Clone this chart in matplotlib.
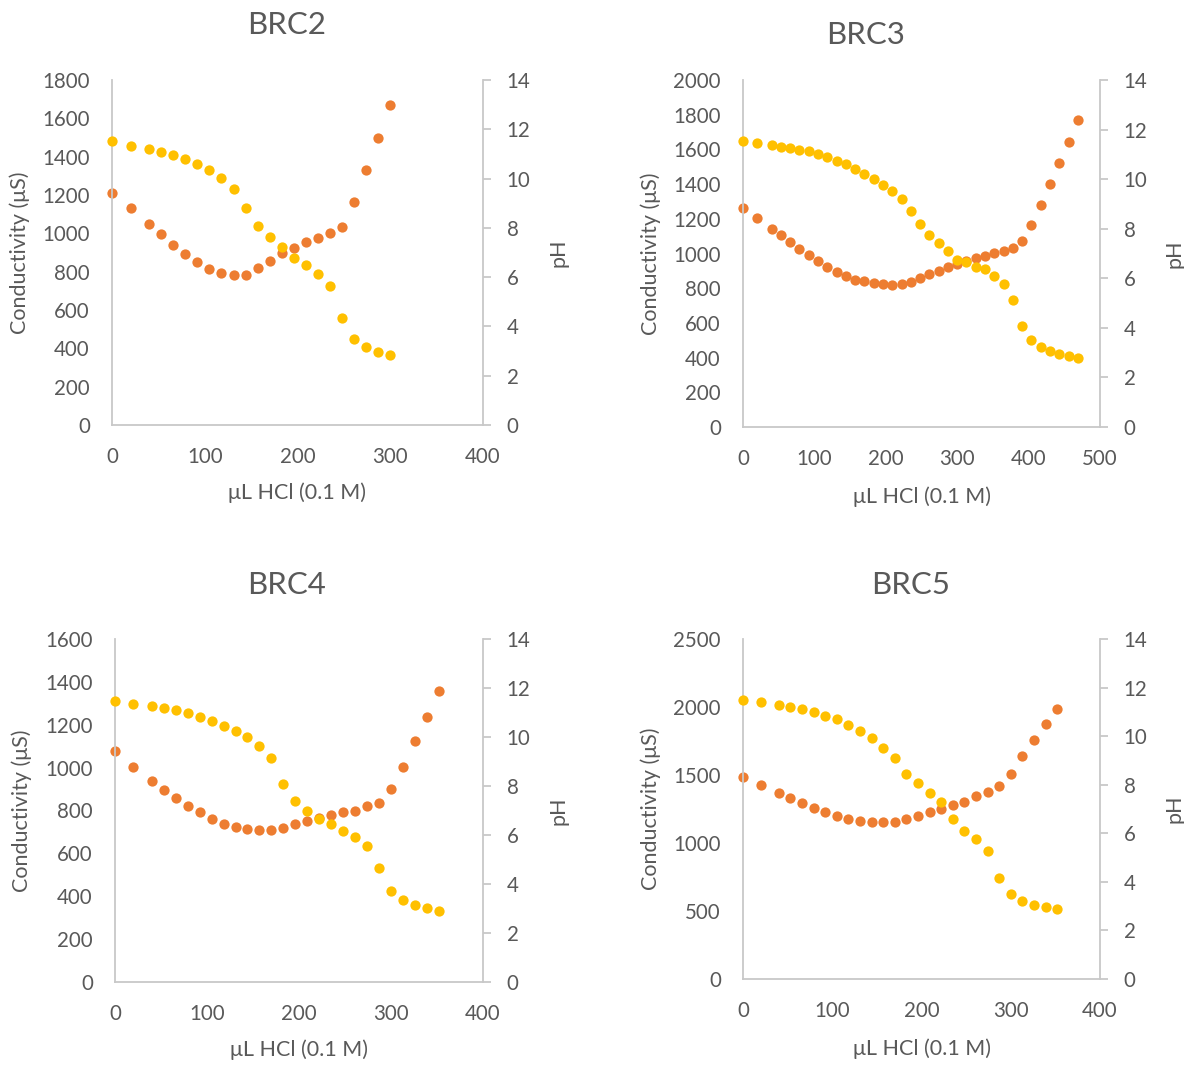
import matplotlib
matplotlib.use('Agg')
import matplotlib.pyplot as plt

plt.rcParams['font.family'] = ['Lato', 'DejaVu Sans']

W, H = 1184, 1065

# titration data
x_brc2 = [0, 20, 40, 53, 66, 79, 92, 105, 118, 131, 144, 157, 170, 183, 196, 209,
          222, 235, 248, 261, 274, 287, 300]
cond_brc2 = [1209, 1130, 1047, 995, 941, 892, 849, 814, 795, 781, 784, 817, 857, 896,
             925, 953, 976, 1002, 1035, 1163, 1329, 1499, 1668]
ph_brc2 = [11.52, 11.32, 11.19, 11.08, 10.96, 10.79, 10.59, 10.35, 10.02, 9.58, 8.82,
           8.06, 7.63, 7.22, 6.78, 6.51, 6.14, 5.65, 4.36, 3.49, 3.17, 2.98, 2.85]

x_brc3 = [0, 20, 40, 53, 66, 79, 92, 105, 118, 131, 144, 157, 170, 183, 196, 209,
          222, 235, 248, 261, 274, 287, 300, 313, 326, 339, 352, 365, 378, 391, 404,
          417, 430, 443, 456, 469]
cond_brc3 = [1265, 1203, 1142, 1104, 1065, 1025, 992, 958, 923, 894, 871, 850, 839, 831,
             825, 821, 827, 837, 860, 881, 902, 923, 942, 958, 973, 988, 1002, 1015,
             1029, 1071, 1167, 1280, 1401, 1522, 1645, 1770]
ph_brc3 = [11.53, 11.46, 11.39, 11.31, 11.26, 11.19, 11.12, 11.00, 10.88, 10.75, 10.60,
           10.41, 10.22, 10.02, 9.77, 9.54, 9.20, 8.72, 8.21, 7.75, 7.42, 7.09, 6.74,
           6.64, 6.45, 6.38, 6.11, 5.76, 5.13, 4.08, 3.49, 3.22, 3.05, 2.94, 2.86, 2.78]

x_brc4 = [0, 20, 40, 53, 66, 79, 92, 105, 118, 131, 144, 157, 170, 183, 196, 209,
          222, 235, 248, 261, 274, 287, 300, 313, 326, 339, 352]
cond_brc4 = [1079, 1004, 937, 895, 856, 820, 791, 761, 736, 721, 714, 707, 707, 718,
             735, 750, 763, 778, 792, 800, 819, 837, 900, 1004, 1122, 1237, 1356]
ph_brc4 = [11.47, 11.34, 11.25, 11.17, 11.09, 10.96, 10.83, 10.66, 10.45, 10.24, 9.98,
           9.64, 9.15, 8.10, 7.37, 6.97, 6.67, 6.43, 6.18, 5.91, 5.54, 4.64, 3.73, 3.36,
           3.16, 3.01, 2.90]

x_brc5 = x_brc4
cond_brc5 = [1484, 1425, 1371, 1330, 1295, 1261, 1227, 1197, 1178, 1160, 1156, 1151,
             1156, 1178, 1202, 1229, 1251, 1278, 1303, 1347, 1374, 1420, 1511, 1639,
             1759, 1874, 1982]
ph_brc5 = [11.49, 11.42, 11.29, 11.22, 11.10, 11.00, 10.84, 10.69, 10.45, 10.22, 9.93,
           9.53, 9.09, 8.46, 8.09, 7.65, 7.29, 6.58, 6.11, 5.76, 5.26, 4.15, 3.49, 3.21,
           3.06, 2.97, 2.88]

ORANGE = '#ED7D31'
YELLOW = '#FFC000'
GREY = '#595959'
LINE = '#C8C8C8'


def px_rect(l, r, t, b):
    return [l / W, 1 - b / H, (r - l) / W, (b - t) / H]


def panel(fig, box, title, title_xy, x, cond, ph, xmax, ymax, ystep, ylab_x, ph_x, xlab_y):
    l, r, t, b = box
    ax = fig.add_axes(px_rect(l, r, t, b))
    ax2 = ax.twinx()

    ax.plot(x, cond, 'o', color=ORANGE, ms=7.4, mew=0, clip_on=False)
    ax2.plot(x, ph, 'o', color=YELLOW, ms=7.4, mew=0, clip_on=False)

    ax.set_xlim(0, xmax)
    ax.set_ylim(0, ymax)
    ax2.set_ylim(0, 14)
    ax.set_xticks(range(0, xmax + 1, 100))
    ax.set_yticks(range(0, ymax + 1, ystep))
    ax2.set_yticks(range(0, 15, 2))

    for a in (ax, ax2):
        for s in a.spines.values():
            s.set_visible(False)
    ax.spines['left'].set_visible(True)
    ax.spines['bottom'].set_visible(True)
    ax2.spines['right'].set_visible(True)
    for s in (ax.spines['left'], ax.spines['bottom'], ax2.spines['right']):
        s.set_color(LINE)
        s.set_linewidth(1.3)

    ax.tick_params(axis='x', length=0, pad=16, labelsize=14.8, labelcolor=GREY)
    ax.tick_params(axis='y', length=0, pad=16, labelsize=14.8, labelcolor=GREY)
    ax2.tick_params(axis='y', length=6, width=1.3, color=LINE, pad=11,
                    labelsize=14.8, labelcolor=GREY)

    cy = (t + b) / 2
    fig.text(title_xy[0] / W, 1 - title_xy[1] / H, title, fontsize=22.5, color=GREY,
             ha='center', va='center')
    fig.text(ylab_x / W, 1 - cy / H, 'Conductivity (\u03bcS)', fontsize=15.5, color=GREY,
             rotation=90, ha='center', va='center')
    fig.text(ph_x / W, 1 - cy / H, 'pH', fontsize=15.5, color=GREY,
             rotation=90, ha='center', va='center')
    fig.text((l + r) / 2 / W, 1 - xlab_y / H, '\u03bcL HCl (0.1 M)', fontsize=15.5,
             color=GREY, ha='center', va='center')


fig = plt.figure(figsize=(W / 100, H / 100), dpi=100)

panel(fig, (112, 483, 80, 425), 'BRC2', (287, 25), x_brc2, cond_brc2, ph_brc2,
      400, 1800, 200, 20, 558, 493)
panel(fig, (743, 1100, 80, 427), 'BRC3', (866, 35), x_brc3, cond_brc3, ph_brc3,
      500, 2000, 200, 651, 1175, 497)
panel(fig, (115, 483, 639, 982), 'BRC4', (287, 585), x_brc4, cond_brc4, ph_brc4,
      400, 1600, 200, 22, 558, 1050)
panel(fig, (743, 1100, 639, 979), 'BRC5', (911, 585), x_brc5, cond_brc5, ph_brc5,
      400, 2500, 500, 651, 1175, 1049)

fig.savefig('out.png', dpi=100)
